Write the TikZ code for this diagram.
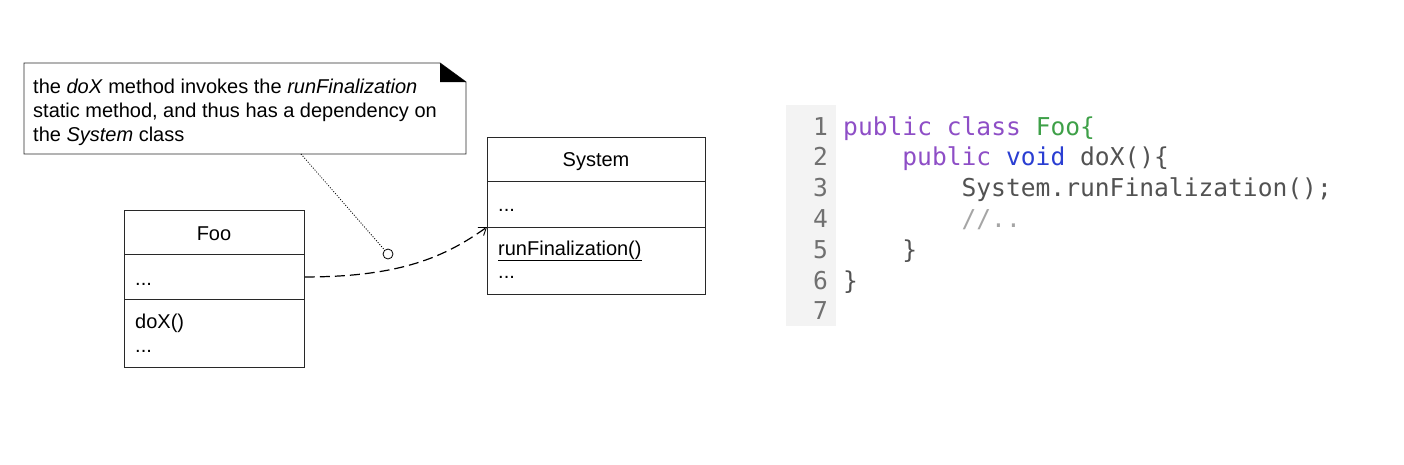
\documentclass[tikz,border=0pt]{standalone}
\usepackage{fontspec}
\setmainfont{Liberation Sans}
\setmonofont{DejaVu Sans Mono}
\usetikzlibrary{arrows.meta}
\definecolor{kw}{RGB}{142,78,198}
\definecolor{cls}{RGB}{62,160,72}
\definecolor{typ}{RGB}{42,62,210}
\definecolor{txt}{RGB}{82,82,82}
\definecolor{cmt}{RGB}{165,165,165}
\definecolor{lno}{RGB}{112,112,112}
\definecolor{gut}{RGB}{243,243,243}
\definecolor{edge}{RGB}{40,40,40}
\begin{document}
\begin{tikzpicture}[x=1pt,y=-1pt,
  compart/.style={draw=edge, line width=0.9pt, rectangle, inner sep=0pt, anchor=north west},
  umltext/.style={font=\fontsize{20}{24}\selectfont, inner sep=0pt},
  codeline/.style={font=\ttfamily\fontsize{24.6}{31}\selectfont, inner sep=0pt, anchor=base west, text=txt},
  linenum/.style={font=\ttfamily\fontsize{24.6}{31}\selectfont, inner sep=0pt, anchor=base east, text=lno},
  dep/.style={draw=black, line width=1.2pt, dash pattern=on 10pt off 5pt, -{Straight Barb[length=7pt,width=10pt,line width=0.9pt]}},
  notelink/.style={draw=black, line width=0.8pt, dash pattern=on 1pt off 1.6pt}
]
\useasboundingbox (0,0) rectangle (1404,464);

% ---------- note ----------
\coordinate (n1) at (24,63);
\coordinate (n2) at (440,63);
\coordinate (n3) at (466,82);
\coordinate (n4) at (466,154);
\coordinate (n5) at (24,154);
\coordinate (n6) at (440,82);
\draw[draw=edge, line width=0.9pt, fill=white] (n1) -- (n2) -- (n3) -- (n4) -- (n5) -- cycle;
\fill[black] (n2) -- (n6) -- (n3) -- cycle;
\node[umltext, anchor=base west] (notel1) at (33,93)
  {the \textit{doX} method invokes the \textit{runFinalization}};
\node[umltext, anchor=base west] (notel2) at (33,117)
  {static method, and thus has a dependency on};
\node[umltext, anchor=base west] (notel3) at (33,141)
  {the \textit{System} class};
\coordinate (nb) at (301,154);

% ---------- Foo ----------
\node[compart, minimum width=180pt, minimum height=44pt] (foo1) at (124,210) {};
\node[compart, minimum width=180pt, minimum height=45pt] (foo2) at (124,254) {};
\node[compart, minimum width=180pt, minimum height=68pt] (foo3) at (124,299) {};
\node[umltext, anchor=base] (fooname) at (214,240) {Foo};
\node[umltext, anchor=base west] (fooattr) at (135,285) {...};
\node[umltext, anchor=base west] (fooop1) at (135,328) {doX()};
\node[umltext, anchor=base west] (fooop2) at (135,352) {...};

% ---------- System ----------
\node[compart, minimum width=218pt, minimum height=44pt] (sys1) at (487,137) {};
\node[compart, minimum width=218pt, minimum height=46pt] (sys2) at (487,181) {};
\node[compart, minimum width=218pt, minimum height=67pt] (sys3) at (487,227) {};
\node[umltext, anchor=base] (sysname) at (596,166) {System};
\node[umltext, anchor=base west] (sysattr) at (498,211) {...};
\node[umltext, anchor=base west] (sysop1) at (498,255) {\underline{runFinalization()}};
\node[umltext, anchor=base west] (sysop2) at (498,278) {...};

% ---------- connectors ----------
\node[draw=black, line width=0.8pt, circle, minimum size=10pt, inner sep=0pt, fill=white] (anc) at (388,254) {};
\draw[notelink] (nb) -- (anc);
\draw[dep] (foo2.east) .. controls +(95,0) and +(-42,30) .. (sys3.north west);

% ---------- code ----------
\fill[gut] (786,105) rectangle (836,326);
\foreach \n [count=\i from 0] in {1,...,7} {
  \node[linenum] (ln\n) at (828,135+30.8*\i) {\n};
}
\node[codeline] (c1) at (843,135) {\textcolor{kw}{public class }\textcolor{cls}{Foo\{}};
\node[codeline] (c2) at (843+4*14.8,165.8) {\textcolor{kw}{public }\textcolor{typ}{void }doX()\{};
\node[codeline] (c3) at (843+8*14.8,196.6) {System.runFinalization();};
\node[codeline, text=cmt] (c4) at (843+8*14.8,227.4) {//..};
\node[codeline] (c5) at (843+4*14.8,258.2) {\}};
\node[codeline] (c6) at (843,289) {\}};
\end{tikzpicture}
\end{document}
